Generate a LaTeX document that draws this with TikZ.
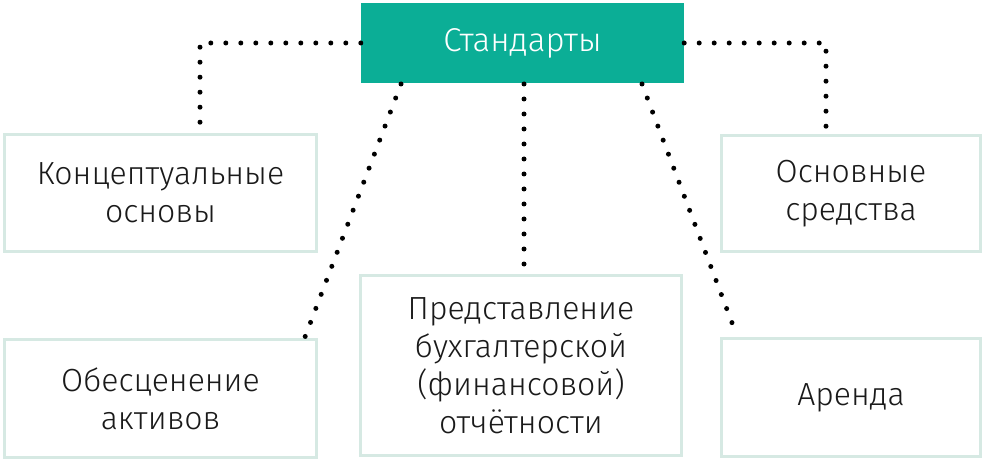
\documentclass[tikz,border=0pt]{standalone}
\usepackage{fontspec}
\setmainfont{Fira Sans}[UprightFont=* Light]
\definecolor{teal}{HTML}{0BAE96}
\definecolor{boxline}{HTML}{D6E9E3}
\definecolor{txt}{HTML}{1A1A1A}
\begin{document}
\begin{tikzpicture}[x=1pt,y=-1pt,
  topbox/.style={fill=teal,draw=none,minimum width=323pt,minimum height=80pt,inner sep=0pt,text=white,font=\fontsize{33}{38}\selectfont},
  itembox/.style={draw=boxline,line width=3pt,fill=white,inner sep=0pt,align=center,text=txt,font=\fontsize{32}{38}\selectfont},
  dots/.style={line width=5pt,line cap=round,dash pattern=on 0pt off 15pt}]
\useasboundingbox (0,0) rectangle (984,462);
\node[topbox] (top) at (522.5,43) {Стандарты};
\node[itembox,minimum width=312pt,minimum height=117pt] (k1) at (160.5,193) {Концептуальные\\основы};
\node[itembox,minimum width=312pt,minimum height=118pt] (k2) at (160.5,398.5) {Обесценение\\активов};
\node[itembox,minimum width=321pt,minimum height=180pt] (k3) at (521,365.5) {Представление\\бухгалтерской\\(финансовой)\\отчётности};
\node[itembox,minimum width=259pt,minimum height=116pt] (k4) at (851,193.5) {Основные\\средства};
\node[itembox,minimum width=259pt,minimum height=118pt] (k5) at (851,397.5) {Аренда};
\coordinate (c1) at (200,131);
\coordinate (c4) at (826,131);
\coordinate (s2) at (401,84);
\coordinate (e2) at (305,337);
\coordinate (s3) at (524,84);
\coordinate (e3) at (524,273);
\coordinate (s5) at (642,84);
\coordinate (e5) at (737,336);
\draw[dots] (top.west) -| (c1);
\draw[dots] (top.east) -| (c4);
\draw[dots] (s2) -- (e2);
\draw[dots] (s3) -- (e3);
\draw[dots] (s5) -- (e5);
\end{tikzpicture}
\end{document}
